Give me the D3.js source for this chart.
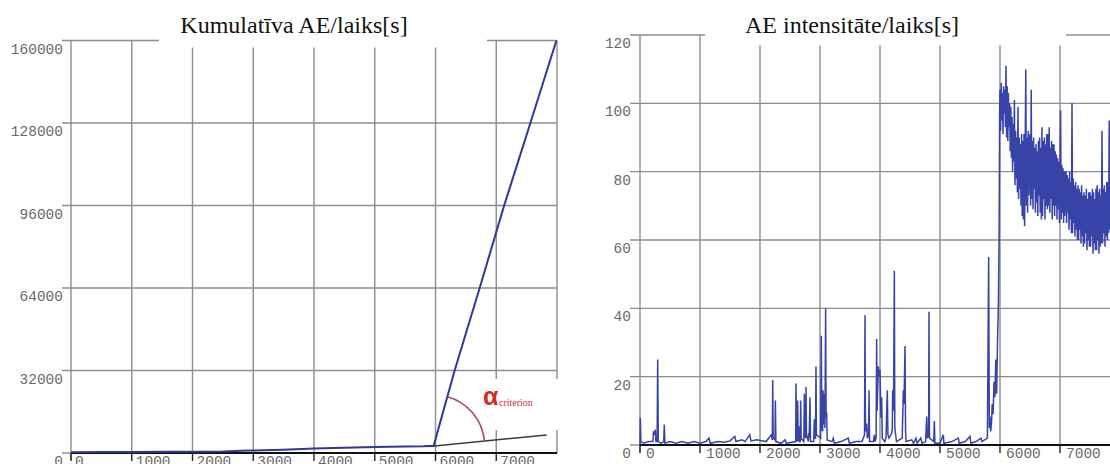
<!DOCTYPE html>
<html>
<head>
<meta charset="utf-8">
<script src="https://cdn.jsdelivr.net/npm/d3@7"></script>
<style>
  body { margin: 0; background: #fff; }
  svg { display: block; }
</style>
</head>
<body>
<svg id="chart" width="1110" height="464"></svg>
<script>
// cumulative AE count (left)
const cumT = [0, 500, 1000, 1500, 2000, 2500, 2800, 3000, 3500, 4000, 4500, 5000, 5500, 5800, 5900, 5970, 6315, 6727, 7130, 7562, 7990];
const cumV = [300, 350, 400, 450, 500, 600, 850, 1000, 1300, 1700, 2000, 2300, 2500, 2600, 2700, 2800, 32000, 64000, 96000, 128000, 160000];
const tangentT = [5900, 7830];
const tangentV = [2500, 7000];

// AE intensity (right): quiet part as [t, value], then dense part every 10 s
const quietPts = [[0,0],[5,8],[15,1],[60,0.5],[150,1],[215,1],[225,4],[240,3],[255,4.5],[265,1],[285,1],[295,25],[305,1],[350,0.5],[395,1],[405,6],[415,0.5],
  [500,1],[600,0.5],[700,1],[800,0.5],[900,1],[1000,0.5],[1100,1],[1150,2],[1170,0.5],[1300,1],[1400,0.8],[1500,1.2],[1580,2.5],[1600,1],[1700,1.5],[1750,1],
  [1830,3],[1850,1.2],[1950,1.5],[2100,1],[2190,3],[2205,1.5],[2212,19],[2220,2],[2250,1.5],[2256,13],[2265,1],[2350,0.5],[2420,1.5],[2440,0.5],
  [2595,1],[2600,18],[2610,2],[2620,1],[2628,13],[2636,2],[2650,1],[2656,5.5],[2662,1],[2672,1],[2678,13],[2686,2],[2730,1],[2739,15],[2748,3],[2760,2],
  [2767,17],[2775,3],[2805,1],[2811,3.5],[2820,2],[2833,14],[2842,1],[2895,1],[2906,7.5],[2915,2],[2925,2],[2933,23],[2940,3],[3010,2],[3022,32],[3030,5],
  [3044,4],[3050,16],[3060,6],[3072,15],[3082,5],[3094,40],[3102,8],[3111,9.5],[3120,1.5],[3200,1],[3222,2],[3240,0.5],[3350,1],[3472,2],[3490,0.5],
  [3600,1],[3700,1],[3742,3],[3750,38],[3758,4],[3778,6.3],[3790,2],[3810,3],[3817,16],[3826,1],[3890,1],[3906,3],[3915,1],[3935,2],[3944,31],[3952,10],
  [3972,23],[3986,20],[4000,22],[4015,8],[4028,14],[4038,2],[4080,1],[4100,2],[4122,16],[4132,3],[4150,2],[4180,3],[4194,3.4],[4205,5],[4211,16],[4225,10],
  [4239,51],[4247,5],[4260,3],[4275,1],[4370,2],[4389,16],[4400,12],[4417,29],[4426,4],[4435,1],[4530,1.5],[4560,0.5],[4600,2],[4620,0.5],[4680,2],[4700,0.5],
  [4760,1],[4778,8.3],[4790,2],[4810,3],[4817,39],[4825,2],[4895,1],[4906,7],[4915,0.5],[5000,0.5],[5055,3],[5065,0.5],[5200,1],[5306,2],[5320,0.5],[5420,1],
  [5500,2.5],[5515,0.5],[5600,1],[5683,2],[5700,1],[5790,2],[5811,55],[5822,5],[5833,8.3],[5845,4],[5860,7],[5870,12],[5885,9],[5900,18.5],[5915,14],
  [5930,25],[5944,15],[5958,30],[5972,40],[5985,60],[5995,100]];
const denseStart = 6000, denseStep = 10;
const denseV = [
  104, 92, 106, 95, 103, 91, 105, 97, 104, 93,
  111, 90, 105, 89, 103, 93, 100, 86, 99, 84,
  96, 80, 94, 83, 101, 76, 92, 78, 90, 74,
  99, 72, 90, 75, 88, 70, 91, 67, 89, 66,
  91, 64, 88, 110, 70, 90, 68, 92, 73, 89,
  91, 70, 104, 72, 89, 69, 90, 75, 87, 68,
  88, 71, 86, 67, 89, 73, 90, 68, 87, 66,
  93, 67, 89, 72, 90, 66, 88, 70, 91, 69,
  91, 70, 93, 68, 87, 72, 89, 66, 88, 70,
  88, 67, 86, 70, 85, 66, 84, 69, 83, 65,
  83, 98, 66, 82, 68, 81, 65, 80, 67, 80,
  80, 65, 79, 68, 78, 63, 80, 66, 77, 62,
  100, 62, 78, 65, 76, 61, 77, 63, 75, 60,
  76, 60, 75, 63, 74, 59, 76, 61, 73, 58,
  74, 59, 73, 62, 75, 57, 72, 60, 74, 58,
  74, 58, 73, 61, 75, 56, 74, 59, 72, 57,
  75, 57, 76, 60, 74, 56, 75, 58, 73, 59,
  92, 59, 75, 62, 76, 58, 74, 61, 77, 60,
  77, 62, 95, 63, 78];

const xTicks = [0, 1000, 2000, 3000, 4000, 5000, 6000, 7000];
const cumTicks = [0, 32000, 64000, 96000, 128000, 160000];
const intTicks = [0, 20, 40, 60, 80, 100, 120];

const svg = d3.select('#chart');
const gridColor = '#8a8d91';
const labelFont = '"Liberation Mono", "Courier New", monospace';

function panel(opt) {
    var g = svg.append('g');
    var x = opt.x, y = opt.y;
    var x0 = x.range()[0], x1 = x.range()[1];
    var yTop = y(opt.yTicks[opt.yTicks.length - 1]), yBot = y(0);

    // vertical grid
    g.selectAll('.vg').data(opt.xTicks.slice(1).concat(opt.xEnd ? [opt.xEnd] : []))
        .enter().append('line')
        .attr('x1', d => x(d)).attr('x2', d => x(d))
        .attr('y1', yTop).attr('y2', yBot)
        .attr('stroke', gridColor).attr('stroke-width', 1.4);

    // horizontal grid + ticks
    g.selectAll('.hg').data(opt.yTicks.slice(1))
        .enter().append('line')
        .attr('x1', x0 - opt.tickLen).attr('x2', x1)
        .attr('y1', d => y(d)).attr('y2', d => y(d))
        .attr('stroke', gridColor).attr('stroke-width', 1.4);

    // white box under the title
    g.append('rect').attr('x', opt.titleBox[0]).attr('y', 0)
        .attr('width', opt.titleBox[1] - opt.titleBox[0]).attr('height', opt.titleBox[2])
        .attr('fill', '#fff');

    // y axis line
    g.append('line').attr('x1', x0).attr('x2', x0).attr('y1', yTop).attr('y2', yBot + 7)
        .attr('stroke', gridColor).attr('stroke-width', 1.4);
    g.append('line').attr('x1', x0 - opt.tickLen).attr('x2', x0)
        .attr('y1', yBot).attr('y2', yBot).attr('stroke', gridColor).attr('stroke-width', 1.4);

    g.selectAll('.yl').data(opt.yTicks).enter().append('text')
        .attr('x', x0 - opt.tickLen + 1).attr('y', d => y(d) + 13)
        .attr('text-anchor', 'end')
        .attr('font-family', labelFont).attr('font-size', '14.5px').attr('fill', '#6a6a6a')
        .text(d => d);

    svg.append('text').attr('x', opt.titleX).attr('y', 33)
        .attr('text-anchor', 'middle')
        .attr('font-family', '"Liberation Serif", "Times New Roman", serif')
        .attr('font-size', '24px').attr('fill', '#111')
        .text(opt.title);

    return g;
}

function xAxis(g, x, yBot, x1, offset) {
    g.append('line').attr('x1', x.range()[0]).attr('x2', x1)
        .attr('y1', yBot).attr('y2', yBot)
        .attr('stroke', '#111').attr('stroke-width', 2.2);
    g.selectAll('.xt').data(xTicks).enter().append('line')
        .attr('x1', d => x(d)).attr('x2', d => x(d))
        .attr('y1', yBot).attr('y2', yBot + 8)
        .attr('stroke', '#222').attr('stroke-width', 1.4);
    g.selectAll('.xl').data(xTicks).enter().append('text')
        .attr('x', d => x(d) + offset).attr('y', yBot + 13)
        .attr('font-family', labelFont).attr('font-size', '14.5px').attr('fill', '#6a6a6a')
        .text(d => d);
}

// ---------- left: cumulative ----------
const xL = d3.scaleLinear().domain([0, 8000]).range([71, 557]);
const yL = d3.scaleLinear().domain([0, 160000]).range([453, 40.5]);

const gL = panel({
    x: xL, y: yL, xTicks: xTicks, xEnd: 8000, yTicks: cumTicks, tickLen: 9,
    titleBox: [159, 487, 47.5], titleX: 294, title: 'Kumulatīva AE/laiks[s]'
});

// box behind the alpha label
gL.append('rect').attr('x', 489).attr('y', 379).attr('width', 75).attr('height', 51).attr('fill', '#fff');

xAxis(gL, xL, 453, 557, 4);

const cumData = cumT.map((t, i) => [t, cumV[i]]);
gL.append('path').datum(cumData)
    .attr('d', d3.line().x(d => xL(d[0])).y(d => yL(d[1])))
    .attr('fill', 'none').attr('stroke', '#2f3797').attr('stroke-width', 2);

const tanData = tangentT.map((t, i) => [t, tangentV[i]]);
gL.append('path').datum(tanData)
    .attr('d', d3.line().x(d => xL(d[0])).y(d => yL(d[1])))
    .attr('fill', 'none').attr('stroke', '#3a3a3a').attr('stroke-width', 1.5);

// angle arc between the rising line and the tangent
const kx = xL(5970), ky = yL(2800);
const aBlue = Math.atan2(yL(32000) - ky, xL(6315) - kx);
const aTan = Math.atan2(yL(tangentV[1]) - ky, xL(tangentT[1]) - kx);
const arcP = d3.path();
arcP.arc(kx, ky, 51, aBlue, aTan, false);
gL.append('path').attr('d', arcP.toString())
    .attr('fill', 'none').attr('stroke', '#a44e5a').attr('stroke-width', 1.6);

gL.append('text').attr('x', 483).attr('y', 405)
    .attr('font-family', '"Liberation Sans", Arial, sans-serif').attr('font-weight', 'bold')
    .attr('font-size', '25px').attr('fill', '#d42a2a').text('α');
gL.append('text').attr('x', 499).attr('y', 406)
    .attr('font-family', '"Liberation Serif", serif')
    .attr('font-size', '10px').attr('fill', '#d42a2a').text('criterion');

// ---------- right: intensity ----------
const xR = d3.scaleLinear().domain([0, 8000]).range([640, 1120]);
const yR = d3.scaleLinear().domain([0, 120]).range([445, 35]);

const gR = panel({
    x: xR, y: yR, xTicks: xTicks, xEnd: null, yTicks: intTicks, tickLen: 10,
    titleBox: [705, 1066, 45.5], titleX: 852, title: 'AE intensitāte/laiks[s]'
});

const intData = quietPts.concat(denseV.map((v, i) => [denseStart + i * denseStep, v]));
gR.append('path').datum(intData)
    .attr('d', d3.line().x(d => xR(d[0])).y(d => yR(d[1])))
    .attr('fill', 'none').attr('stroke', '#3843a8').attr('stroke-width', 1.5);

xAxis(gR, xR, 445, 1110, 6);
</script>
</body>
</html>
